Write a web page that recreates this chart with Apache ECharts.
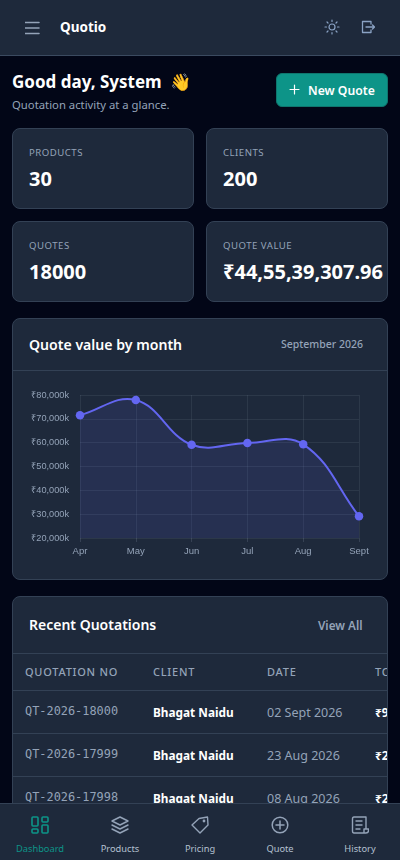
<!DOCTYPE html>
<html><head><meta charset="utf-8">
<script src="https://cdn.jsdelivr.net/npm/echarts@6/dist/echarts.min.js"></script>
<style>
*{box-sizing:border-box}
html,body{margin:0;padding:0;width:400px;height:860px;overflow:hidden;background:#020617;font-family:"Noto Sans",sans-serif;color:#fff}
.a{position:absolute;white-space:nowrap;line-height:1}
.card{position:absolute;background:#1e293b;border:1px solid #334155;border-radius:8px}
.lbl{font-size:9.6px;color:#94a3b8;letter-spacing:.5px}
.val{font-size:20px;font-weight:700}
.line{position:absolute;height:1px;background:#334155}
.th{font-size:11px;color:#94a3b8;letter-spacing:.75px;font-weight:500}
.mono{font-family:"DejaVu Sans Mono",monospace;font-size:11.9px;color:#94a3b8}
.cl{font-size:11.8px;font-weight:700}
.dt{font-size:12.5px;color:#94a3b8;}
.nav{font-size:9.3px;color:#b4c0d0;transform:translateX(-50%)}
svg{position:absolute;fill:none;stroke-linecap:round;stroke-linejoin:round}
</style></head><body>
<div class="a" style="left:0;top:0;width:400px;height:56px;background:#1e293b;border-bottom:1px solid #3b4a60"></div>
<svg style="left:25px;top:21px" width="15" height="14" stroke="#94a3b8" stroke-width="1.5"><path d="M0 1.500H14M0 7H14M0 12.500H14"/></svg>
<div class="a" style="left:60px;top:21px;font-size:13.5px;font-weight:700">Quotio</div>
<svg style="left:324px;top:19px" width="16" height="16" viewBox="0 0 16 16" stroke="#8aa2c4" stroke-width="1.2"><circle cx="8" cy="8" r="3"/><path d="M8 1V2.500M8 13.500V15M1 8H2.500M13.500 8H15M3 3L4 4M12 12L13 13M3 13L4 12M12 4L13 3"/></svg>
<svg style="left:361px;top:19px" width="14" height="16" viewBox="0 0 14 16" stroke="#8aa2c4" stroke-width="1.3"><path d="M10 5V2.500H1.500V13.500H10V11M5 8H13.500M11.500 6L13.500 8L11.500 10"/></svg>

<div class="a" style="left:12px;top:73px;font-size:17px;font-weight:700">Good day, System</div>
<div class="a" style="left:170px;top:73px;font-size:17px">👋</div>
<div class="a" style="left:12px;top:99px;font-size:11.3px;color:#94a3b8">Quotation activity at a glance.</div>
<div class="a" style="left:276px;top:73px;width:112px;height:34px;background:#0d9488;border-radius:6px;border:1px solid #0f766e"></div>
<svg style="left:289px;top:84px" width="11" height="11" stroke="#fff" stroke-width="1.2"><path d="M5.500 1V10M1 5.500H10"/></svg>
<div class="a" style="left:308px;top:85px;font-size:12.2px;font-weight:600">New Quote</div>

<div class="card" style="left:12px;top:128px;width:182px;height:81px"></div>
<div class="card" style="left:206px;top:128px;width:182px;height:81px"></div>
<div class="card" style="left:12px;top:221px;width:182px;height:81px"></div>
<div class="card" style="left:206px;top:221px;width:182px;height:81px"></div>
<div class="a lbl" style="left:29px;top:148px">PRODUCTS</div><div class="a val" style="left:29px;top:169px">30</div>
<div class="a lbl" style="left:223px;top:148px">CLIENTS</div><div class="a val" style="left:223px;top:169px">200</div>
<div class="a lbl" style="left:29px;top:241px">QUOTES</div><div class="a val" style="left:29px;top:262px">18000</div>
<div class="a lbl" style="left:223px;top:241px">QUOTE VALUE</div><div class="a val" style="left:223px;top:262px">₹44,55,39,307.96</div>

<div class="card" style="left:12px;top:318px;width:376px;height:262px"></div>
<div class="a" style="left:29px;top:338px;font-size:14.100px;font-weight:600">Quote value by month</div>
<div class="a" style="left:281px;top:339px;font-size:10.500px;color:#94a3b8;font-weight:500">September 2026</div>
<div class="line" style="left:13px;top:370px;width:374px"></div>
<div id="chart" style="position:absolute;left:13px;top:375px;width:374px;height:200px"></div>

<div class="card" style="left:12px;top:596px;width:376px;height:300px;overflow:hidden">
 <div class="a" style="left:16px;top:21px;font-size:14px;font-weight:600">Recent Quotations</div>
 <div class="a" style="left:305px;top:23px;font-size:11.700px;color:#94a3b8;font-weight:600">View All</div>
 <div class="line" style="left:0;top:56px;width:374px"></div>
 <div class="a th" style="left:12px;top:69px">QUOTATION NO</div><div class="a th" style="left:140px;top:69px">CLIENT</div><div class="a th" style="left:254px;top:69px">DATE</div><div class="a th" style="left:362px;top:69px">TOTAL</div>
 <div class="line" style="left:0;top:93px;width:374px"></div>
 <div class="a mono" style="left:12px;top:109px">QT-2026-18000</div><div class="a cl" style="left:140px;top:110px">Bhagat Naidu</div><div class="a dt" style="left:254px;top:110px">02 Sept 2026</div><div class="a cl" style="left:362px;top:110px">₹9</div>
 <div class="line" style="left:0;top:136px;width:374px"></div>
 <div class="a mono" style="left:12px;top:152px">QT-2026-17999</div><div class="a cl" style="left:140px;top:153px">Bhagat Naidu</div><div class="a dt" style="left:254px;top:153px">23 Aug 2026</div><div class="a cl" style="left:362px;top:153px">₹2</div>
 <div class="line" style="left:0;top:179px;width:374px"></div>
 <div class="a mono" style="left:12px;top:195px">QT-2026-17998</div><div class="a cl" style="left:140px;top:196px">Bhagat Naidu</div><div class="a dt" style="left:254px;top:196px">08 Aug 2026</div><div class="a cl" style="left:362px;top:196px">₹2</div>
</div>

<div class="a" style="left:0;top:803px;width:400px;height:57px;background:#1e293b;border-top:1px solid #334155"></div>
<svg style="left:31px;top:816px" width="18" height="18" stroke="#0d9488" stroke-width="1.6"><rect x="1" y="1" width="6" height="9" rx="1"/><rect x="11" y="1" width="6" height="5" rx="1"/><rect x="1" y="13" width="6" height="4" rx="1"/><rect x="11" y="9" width="6" height="8" rx="1"/></svg>
<svg style="left:111px;top:816px" width="18" height="18" stroke="#94a3b8" stroke-width="1.4"><path d="M9 1L17 5L9 9L1 5ZM1 9L9 13L17 9M1 13L9 17L17 13"/></svg>
<svg style="left:191px;top:816px" width="18" height="18" stroke="#94a3b8" stroke-width="1.4"><path d="M1 9L8 2.500L16.500 1L17 9L9 17Z"/><circle cx="13" cy="5" r=".7"/></svg>
<svg style="left:271px;top:816px" width="18" height="18" stroke="#94a3b8" stroke-width="1.5"><circle cx="9" cy="9" r="7.800"/><path d="M9 5V13M5 9H13"/></svg>
<svg style="left:351px;top:816px" width="18" height="18" stroke="#94a3b8" stroke-width="1.4"><path d="M15 13V1H3Q1.500 1 1.500 3V15Q1.500 17 3 17H15Q17.500 17 17.500 14.500V13H13V17M5 5H11M5 9H11M5 13H9"/></svg>
<div class="a nav" style="left:40px;top:844px;color:#0d9488">Dashboard</div>
<div class="a nav" style="left:120px;top:844px">Products</div>
<div class="a nav" style="left:200px;top:844px">Pricing</div>
<div class="a nav" style="left:280px;top:844px">Quote</div>
<div class="a nav" style="left:360px;top:844px">History</div>

<script>
const months = ['Apr','May','Jun','Jul','Aug','Sept'];
const quoteValueK = [71500,77900,59150,59850,59300,29100];
const axisMin = 20000, axisMax = 80000, axisStep = 10000;
const tension = 0.4;

// Control points of the curve through the data, in pixels from the chart's own scales.
function controls(pts){
  return pts.map((p,i)=>{
    const a = pts[i-1]||p, b = pts[i+1]||p;
    const d1 = Math.hypot(p[0]-a[0],p[1]-a[1]), d2 = Math.hypot(b[0]-p[0],b[1]-p[1]);
    const sum = d1+d2||1, dx = b[0]-a[0], dy = b[1]-a[1];
    return {
      prev:[p[0]-tension*d1/sum*dx, p[1]-tension*d1/sum*dy],
      next:[p[0]+tension*d2/sum*dx, p[1]+tension*d2/sum*dy]
    };
  });
}
function bez(p0,c0,c1,p1,t){
  const u=1-t;
  return [0,1].map(k=>u*u*u*p0[k]+3*u*u*t*c0[k]+3*u*t*t*c1[k]+t*t*t*p1[k]);
}
function renderSegment(params,api){
  const i = params.dataIndex;
  if(i>=quoteValueK.length-1) return {type:'group',children:[]};
  const pts = quoteValueK.map((v,k)=>api.coord([k,v]));
  const cp = controls(pts);
  const p0=pts[i],p1=pts[i+1],c0=cp[i].next,c1=cp[i+1].prev;
  const base = api.coord([i,axisMin])[1];
  const samples=[];
  for(let s=0;s<=30;s++) samples.push(bez(p0,c0,c1,p1,s/30));
  return {type:'group',children:[
    {type:'polygon',shape:{points:[[p0[0],base],...samples,[p1[0],base]]},
      style:{fill:'rgba(99,102,241,0.125)',stroke:null},z2:1},
    {type:'bezierCurve',shape:{x1:p0[0],y1:p0[1],x2:p1[0],y2:p1[1],
      cpx1:c0[0],cpy1:c0[1],cpx2:c1[0],cpy2:c1[1]},
      style:{fill:null,stroke:'#6366f1',lineWidth:2},z2:2}
  ]};
}
const chart = echarts.init(document.getElementById('chart'),null,{renderer:'canvas'});
chart.setOption({
  animation:false,
  grid:{left:67,right:28,top:20,bottom:37},
  xAxis:{type:'category',data:months,boundaryGap:false,
    axisLine:{show:false},
    axisTick:{show:true,length:4,lineStyle:{color:'rgba(148,163,184,0.2)'}},
    axisLabel:{color:'#94a3b8',fontSize:9.5,fontFamily:'Liberation Sans',margin:8,showMinLabel:true,showMaxLabel:true},
    splitLine:{show:true,lineStyle:{color:'rgba(148,163,184,0.12)',width:1}}},
  yAxis:{type:'value',min:axisMin,max:axisMax,interval:axisStep,
    axisLine:{show:false},axisTick:{show:false},
    axisLabel:{color:'#94a3b8',fontSize:9.2,fontFamily:'Liberation Sans',margin:11,
      formatter:v=>'₹'+v.toLocaleString('en-US')+'k'},
    splitLine:{show:true,lineStyle:{color:'rgba(148,163,184,0.12)',width:1}}},
  series:[
    {type:'custom',data:quoteValueK.map((v,i)=>[i,v]),encode:{x:0,y:1},renderItem:renderSegment,clip:false,z:2},
    {type:'scatter',data:quoteValueK.map((v,i)=>[i,v]),symbol:'circle',symbolSize:8.5,
      itemStyle:{color:'#6366f1',opacity:1},clip:false,z:3}
  ]
});
</script>
</body></html>
